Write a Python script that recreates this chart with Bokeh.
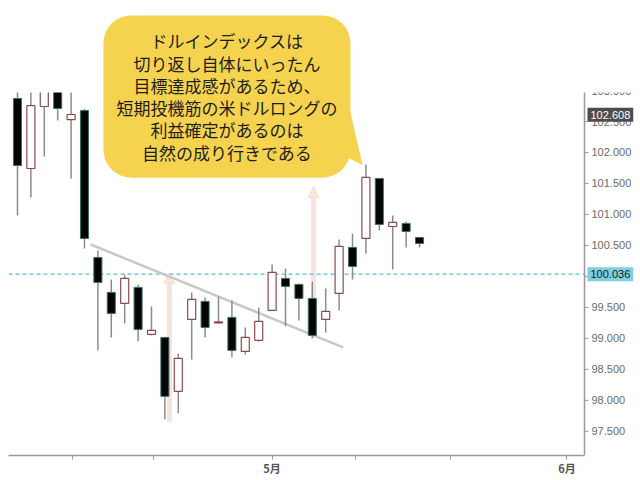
from bokeh.plotting import figure
from bokeh.models import (ColumnDataSource, FixedTicker, Label, Arrow, NormalHead,
                          Range1d, BoxAnnotation)
from bokeh.core.properties import value
from bokeh.embed import file_html
from bokeh.resources import INLINE

# ---- data ----
opens  = [102.871, 101.742, 102.742, 103.100, 102.532, 102.677, 100.306, 99.742, 99.565, 99.823,
          99.065, 99.016, 98.145, 99.306, 99.597, 99.250, 99.339, 98.790, 98.968, 99.452,
          99.968, 99.871, 99.645, 99.306, 99.726, 100.468, 100.613, 101.581, 100.806, 100.855,
          100.629]
highs  = [103.080, 103.050, 103.150, 103.150, 103.050, 102.700, 100.419, 99.952, 100.032, 99.871,
          99.516, 99.020, 98.758, 99.742, 99.661, 99.677, 99.613, 99.177, 99.500, 100.194,
          100.129, 99.880, 99.919, 99.806, 100.597, 100.694, 101.806, 101.585, 100.984, 100.887,
          100.635]
lows   = [100.984, 101.274, 101.935, 102.516, 101.581, 100.452, 98.806, 99.016, 99.242, 98.952,
          99.048, 97.694, 97.790, 98.661, 99.016, 99.242, 98.694, 98.742, 98.950, 99.440,
          99.194, 99.290, 99.000, 99.097, 99.452, 99.952, 100.371, 100.742, 100.113, 100.468,
          100.468]
closes = [101.790, 102.758, 103.100, 102.710, 102.613, 100.613, 99.903, 99.403, 99.968, 99.145,
          99.129, 98.065, 98.677, 99.629, 99.177, 99.266, 98.806, 99.016, 99.274, 100.065,
          99.839, 99.645, 99.048, 99.435, 100.484, 100.161, 101.597, 100.839, 100.871, 100.726,
          100.532]
idx = list(range(len(opens)))

x_ticks = [4.1, 10.15, 19.0, 25.2, 32.3, 41.0]
x_tick_labels = ["", "", "5月", "", "", "6月"]
y_ticks = [97.5, 98.0, 98.5, 99.0, 99.5, 100.0, 100.5, 101.0, 101.5, 102.0, 102.5, 103.0]
y_tick_labels = [f"{t:.3f}" for t in y_ticks]

ref_level = 100.036
high_mark = 102.608

trend_x = [5.45, 24.3]
trend_y = [100.516, 98.855]

arrow_x = [11.34, 22.1]
arrow_y_from = [97.645, 99.016]
arrow_y_to = [100.065, 101.452]

bubble_text = ("ドルインデックスは\n切り返し自体にいったん\n目標達成感があるため、\n"
               "短期投機筋の米ドルロングの\n利益確定があるのは\n自然の成り行きである")

# chart window: x from x_lo to price-axis position, y visible up to y_hi_visible
x_lo, x_axis, x_hi = -0.67, 42.31, 46.34
y_lo, y_hi_visible, y_hi_canvas = 97.11, 102.968, 104.453
px_per_x = 630 / (x_hi - x_lo)

# ---- figure ----
p = figure(width=638, height=480, output_backend="svg", toolbar_location=None,
           x_range=Range1d(x_lo, x_hi), y_range=Range1d(y_lo, y_hi_canvas),
           y_axis_location=None, min_border_left=8, min_border_top=0,
           min_border_right=0, min_border_bottom=25)
p.outline_line_color = None
p.grid.visible = False
p.background_fill_color = "white"

axis_color = "#9a9a9a"

# bottom (time) axis
xa = p.xaxis[0]
xa.bounds = (x_lo, x_axis)
xa.axis_line_color = axis_color
xa.axis_line_width = 1.5
xa.major_tick_line_color = axis_color
xa.major_tick_out = 4
xa.major_tick_in = 0
xa.minor_tick_line_color = None
xa.ticker = FixedTicker(ticks=x_ticks)
xa.major_label_overrides = {t: l for t, l in zip(x_ticks, x_tick_labels)}
xa.major_label_text_font = "Noto Sans CJK JP"
xa.major_label_text_font_style = "bold"
xa.major_label_text_font_size = "11px"
xa.major_label_text_color = "#555555"
xa.major_label_standoff = 0

# price axis on the right (drawn through the plot's own scales)
p.segment(x0=[x_axis], y0=[y_lo], x1=[x_axis], y1=[103.08],
          line_color=axis_color, line_width=1.5)
p.segment(x0=[x_axis] * len(y_ticks), y0=y_ticks,
          x1=[x_axis + 4 / px_per_x] * len(y_ticks), y1=y_ticks,
          line_color=axis_color, line_width=1)
p.text(x=[x_axis] * len(y_ticks), y=y_ticks, text=y_tick_labels, x_offset=7,
       text_font=value("Liberation Sans"), text_font_size=value("11px"),
       text_color="#6a6a6a", text_baseline="middle", text_align="left")

# arrows (underlay)
arrow_color = "#f3dccd"
for ax_, y0, y1 in zip(arrow_x, arrow_y_from, arrow_y_to):
    p.add_layout(Arrow(end=NormalHead(size=11, fill_color=arrow_color, line_color=arrow_color,
                                      fill_alpha=0.75, line_alpha=0.75),
                       x_start=ax_, y_start=y0, x_end=ax_, y_end=y1,
                       line_color=arrow_color, line_width=5, line_alpha=0.75, level="underlay"))

# reference dashed line
p.line([x_lo, x_axis], [ref_level, ref_level], line_color="#5bbcd6",
       line_width=1.3, line_dash="4 3")

# trend line
p.line(trend_x, trend_y, line_color="#c8c8c8", line_width=2.5)

# candles
inc = [c >= o for o, c in zip(opens, closes)]
def pick(vals, up):
    return [v for v, u in zip(vals, inc) if u == up]
src_up = ColumnDataSource(dict(x=pick(idx, True), o=pick(opens, True), c=pick(closes, True),
                               h=pick(highs, True), l=pick(lows, True)))
src_dn = ColumnDataSource(dict(x=pick(idx, False), o=pick(opens, False), c=pick(closes, False),
                               h=pick(highs, False), l=pick(lows, False)))

for src in (src_up, src_dn):
    p.segment(x0="x", y0="h", x1="x", y1="l", source=src, line_color="#8c8c8c", line_width=1.5)
p.vbar(x="x", top="c", bottom="o", width=0.6, source=src_up,
       fill_color="white", line_color="#8c4b4b", line_width=1.2)
p.vbar(x="x", top="o", bottom="c", width=0.6, source=src_dn,
       fill_color="#050505", line_color="#3a6e62", line_width=1)

# white area above the visible price window (the chart is cut there)
p.add_layout(BoxAnnotation(bottom=y_hi_visible, fill_color="white", fill_alpha=1.0,
                           line_color=None))

# speech bubble tail
bubble_color = "#f5d34f"
p.patch([24.55, 25.75, 23.4], [102.92, 101.80, 102.05], fill_color=bubble_color, line_color=None)

# speech bubble body
p.add_layout(Label(x=15.63, y=102.903, text=bubble_text, text_align="center",
                   text_baseline="middle", text_font="Noto Sans CJK JP",
                   text_font_size="17px", text_color="#1e1e1e", text_line_height=0.89,
                   background_fill_color=bubble_color, border_radius=28, padding=13))

# price tags on the price axis
p.add_layout(Label(x=x_axis, y=ref_level, x_offset=3, text=f"{ref_level:.3f}",
                   text_align="left", text_baseline="middle", text_font="Liberation Sans",
                   text_font_size="11px", text_color="#1a1a1a",
                   background_fill_color="#7ecfe0", padding=3))
p.add_layout(Label(x=x_axis, y=high_mark, x_offset=3, text=f"{high_mark:.3f}",
                   text_align="left", text_baseline="middle", text_font="Liberation Sans",
                   text_font_size="11px", text_color="white",
                   background_fill_color="#4d4d4d", padding=3))

open("out.html", "w").write(file_html(p, INLINE))
